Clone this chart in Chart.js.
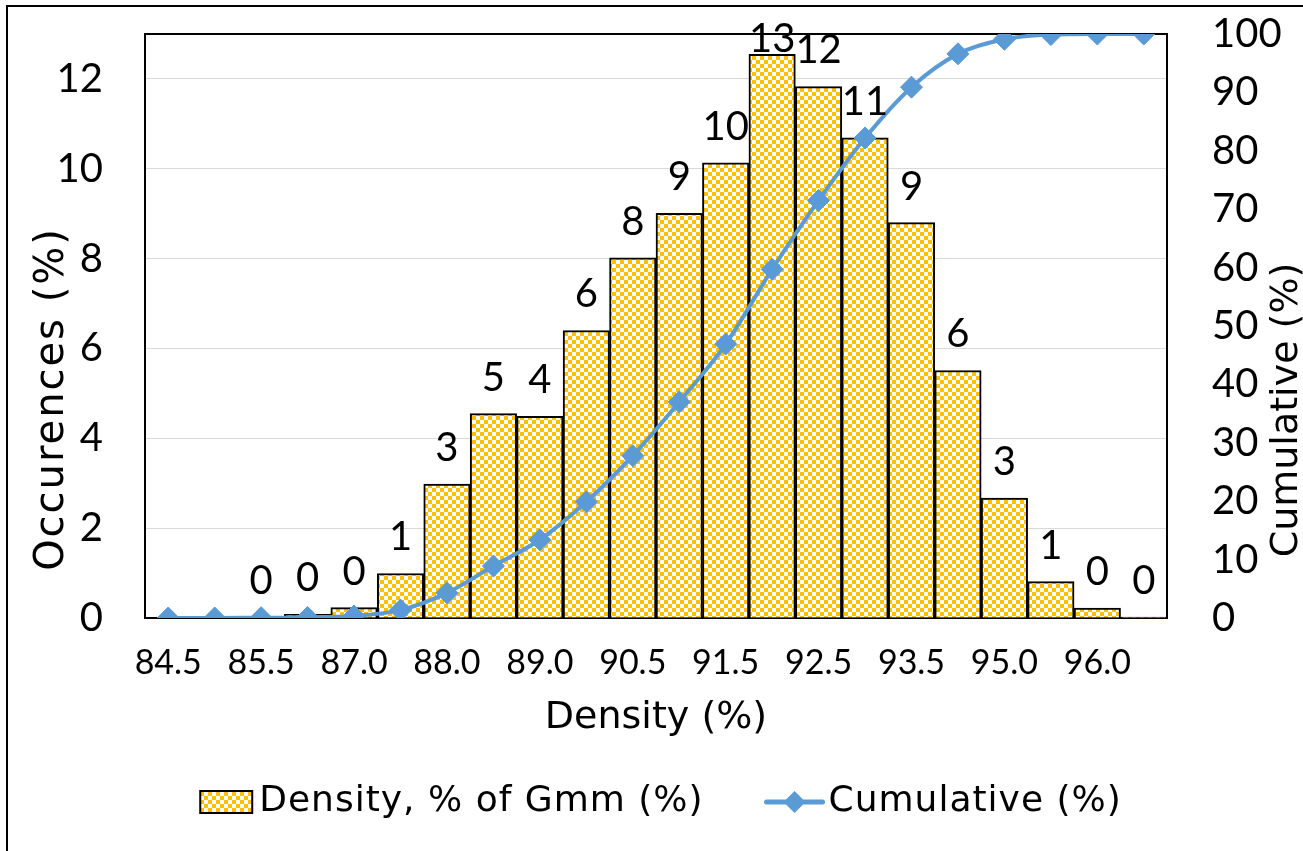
<!DOCTYPE html>
<html>
<head>
<meta charset="utf-8">
<title>Density distribution</title>
<script src="https://cdn.jsdelivr.net/npm/chart.js@4.4.1/dist/chart.umd.min.js"></script>
<style>
  html, body { margin: 0; padding: 0; background: #fff; }
  #wrap { width: 1303px; height: 851px; position: relative; }
</style>
</head>
<body>
<div id="wrap"><canvas id="c" width="1303" height="851"></canvas></div>
<script>
// Density bins (% of Gmm); only every second bin is labelled on the axis
const densityBins = ['84.5', '85.0', '85.5', '86.0', '87.0', '87.5', '88.0', '88.5', '89.0', '89.5', '90.5',
                     '91.0', '91.5', '92.0', '92.5', '93.0', '93.5', '94.5', '95.0', '95.5', '96.0', '96.5'];

// Share of samples falling in each bin (%)
const occurrences = [null, null, 0.03, 0.08, 0.23, 0.99, 2.98, 4.55, 4.49, 6.40, 8.02,
                     9.01, 10.13, 12.55, 11.83, 10.69, 8.80, 5.51, 2.67, 0.81, 0.22, 0.02];

// Cumulative share (%)
const cumulative = [0, 0, 0.05, 0.1, 0.35, 1.35, 4.3, 8.9, 13.4, 19.9, 27.8,
                    37.0, 46.9, 59.7, 71.5, 82.2, 90.9, 96.6, 99.1, 99.9, 100, 100];

const seriesNames = ['Density, % of Gmm (%)', 'Cumulative (%)'];
const axisTitles = { x: 'Density (%)', left: 'Occurences (%)', right: 'Cumulative (%)' };

const NUM_FONT = 'Lato, "DejaVu Sans", sans-serif';
const TEXT_FONT = '"DejaVu Sans", Lato, sans-serif';
const GOLD = '#FFC000';
const BLUE = '#5B9BD5';

// 4px yellow/white checkerboard used for the bars
function makeChecker() {
  const c = document.createElement('canvas');
  c.width = 8; c.height = 8;
  const g = c.getContext('2d');
  g.fillStyle = '#ffffff'; g.fillRect(0, 0, 8, 8);
  g.fillStyle = GOLD; g.fillRect(0, 0, 4, 4); g.fillRect(4, 4, 4, 4);
  return c;
}
const canvas = document.getElementById('c');
const ctx = canvas.getContext('2d');
const checkerFill = ctx.createPattern(makeChecker(), 'repeat');

function diamond(g, x, y, r) {
  g.beginPath();
  g.moveTo(x, y - r); g.lineTo(x + r, y); g.lineTo(x, y + r); g.lineTo(x - r, y);
  g.closePath(); g.fill();
}

// Keep tick-label overhang from shrinking the plot area
function noOverhang(scale) {
  scale.paddingTop = 0;
  scale.paddingBottom = 0;
  scale.paddingLeft = 0;
  scale.paddingRight = 0;
}

// Outer frame, plot frame
const framePlugin = {
  id: 'frames',
  beforeDraw(chart) {
    const g = chart.ctx;
    g.save();
    g.fillStyle = '#fff';
    g.fillRect(0, 0, chart.width, chart.height);
    g.strokeStyle = '#000';
    g.lineWidth = 2;
    g.strokeRect(7, 6, chart.width + 20, chart.height + 20);
    g.restore();
  },
  beforeDatasetsDraw(chart) {
    const a = chart.chartArea, g = chart.ctx;
    g.save();
    g.strokeStyle = '#000';
    g.lineWidth = 2;
    g.strokeRect(a.left, a.top, a.right - a.left, a.bottom - a.top);
    g.restore();
  }
};

// Value labels above every bar
const barLabelPlugin = {
  id: 'barLabels',
  afterDatasetsDraw(chart) {
    const meta = chart.getDatasetMeta(0);
    const g = chart.ctx;
    g.save();
    g.font = '40px ' + NUM_FONT;
    g.fillStyle = '#000';
    g.textAlign = 'center';
    g.textBaseline = 'middle';
    meta.data.forEach((bar, i) => {
      const v = occurrences[i];
      if (v === null || v === undefined) return;
      const y = Math.max(bar.y - 36, 39);
      g.fillText(String(Math.round(v)), bar.x, y);
    });
    g.restore();
  }
};

// Axis titles and the legend underneath the chart
const annotationPlugin = {
  id: 'titlesLegend',
  afterDraw(chart) {
    const a = chart.chartArea, g = chart.ctx;
    g.save();
    g.fillStyle = '#000';
    g.textBaseline = 'middle';
    g.textAlign = 'center';

    g.font = '38px ' + TEXT_FONT;
    g.fillText(axisTitles.x, (a.left + a.right) / 2, 718);

    g.save();
    g.translate(53, 399);
    g.rotate(-Math.PI / 2);
    g.font = '40px ' + TEXT_FONT;
    g.letterSpacing = '2px';
    g.fillText(axisTitles.left, 0, 0);
    g.restore();

    g.save();
    g.translate(1287, 410);
    g.rotate(-Math.PI / 2);
    g.fillText(axisTitles.right, 0, 0);
    g.restore();

    // legend
    g.font = '36px ' + TEXT_FONT;
    g.letterSpacing = '1px';
    const w1 = g.measureText(seriesNames[0]).width;
    const w2 = g.measureText(seriesNames[1]).width;
    const boxW = 52, boxGap = 7, itemGap = 63, lineW = 56, lineGap = 6;
    const total = boxW + boxGap + w1 + itemGap + lineW + lineGap + w2;
    let x = 661 - total / 2;
    const cy = 802;
    g.fillStyle = checkerFill;
    g.fillRect(x, cy - 11, boxW, 22);
    g.strokeStyle = '#000';
    g.lineWidth = 2;
    g.strokeRect(x, cy - 11, boxW, 22);
    x += boxW + boxGap;
    g.fillStyle = '#000';
    g.textAlign = 'left';
    g.fillText(seriesNames[0], x, cy);
    x += w1 + itemGap;
    g.strokeStyle = BLUE;
    g.lineWidth = 5;
    g.lineCap = 'round';
    g.beginPath(); g.moveTo(x, cy); g.lineTo(x + lineW, cy); g.stroke();
    g.fillStyle = BLUE;
    diamond(g, x + lineW / 2, cy, 11);
    x += lineW + lineGap;
    g.fillStyle = '#000';
    g.fillText(seriesNames[1], x, cy);
    g.restore();
  }
};

new Chart(ctx, {
  data: {
    labels: densityBins,
    datasets: [
      {
        type: 'bar',
        label: seriesNames[0],
        data: occurrences,
        yAxisID: 'y',
        backgroundColor: checkerFill,
        borderColor: '#000',
        borderWidth: 2,
        barPercentage: 1,
        categoryPercentage: 1,
        order: 2
      },
      {
        type: 'line',
        label: seriesNames[1],
        data: cumulative,
        yAxisID: 'y2',
        borderColor: BLUE,
        borderWidth: 4,
        backgroundColor: BLUE,
        pointStyle: 'rectRot',
        pointRadius: 11,
        pointBackgroundColor: BLUE,
        pointBorderColor: BLUE,
        pointBorderWidth: 1,
        cubicInterpolationMode: 'monotone',
        order: 1
      }
    ]
  },
  options: {
    responsive: false,
    animation: false,
    devicePixelRatio: 1,
    layout: { autoPadding: false, padding: { top: 34, left: 0, right: 0, bottom: 0 } },
    plugins: { legend: { display: false }, tooltip: { enabled: false } },
    scales: {
      x: {
        type: 'category',
        offset: true,
        grid: { display: false, drawTicks: false },
        border: { display: false },
        ticks: {
          autoSkip: false,
          maxRotation: 0,
          padding: 25,
          color: '#000',
          font: { family: NUM_FONT, size: 34 },
          callback(value, index) { return index % 2 === 0 ? densityBins[index] : ''; }
        },
        afterFit(scale) { scale.height = 233; noOverhang(scale); }
      },
      y: {
        position: 'left',
        min: 0,
        max: 13,
        grid: { color: '#d9d9d9', lineWidth: 1, drawTicks: false },
        border: { display: false },
        ticks: {
          stepSize: 2,
          includeBounds: false,
          padding: 42,
          color: '#000',
          font: { family: NUM_FONT, size: 40 }
        },
        afterFit(scale) { scale.width = 145; noOverhang(scale); }
      },
      y2: {
        position: 'right',
        min: 0,
        max: 100,
        grid: { display: false, drawTicks: false },
        border: { display: false },
        ticks: {
          stepSize: 10,
          padding: 45,
          color: '#000',
          font: { family: NUM_FONT, size: 40 }
        },
        afterFit(scale) { scale.width = 136; noOverhang(scale); }
      }
    }
  },
  plugins: [framePlugin, barLabelPlugin, annotationPlugin]
});
</script>
</body>
</html>
